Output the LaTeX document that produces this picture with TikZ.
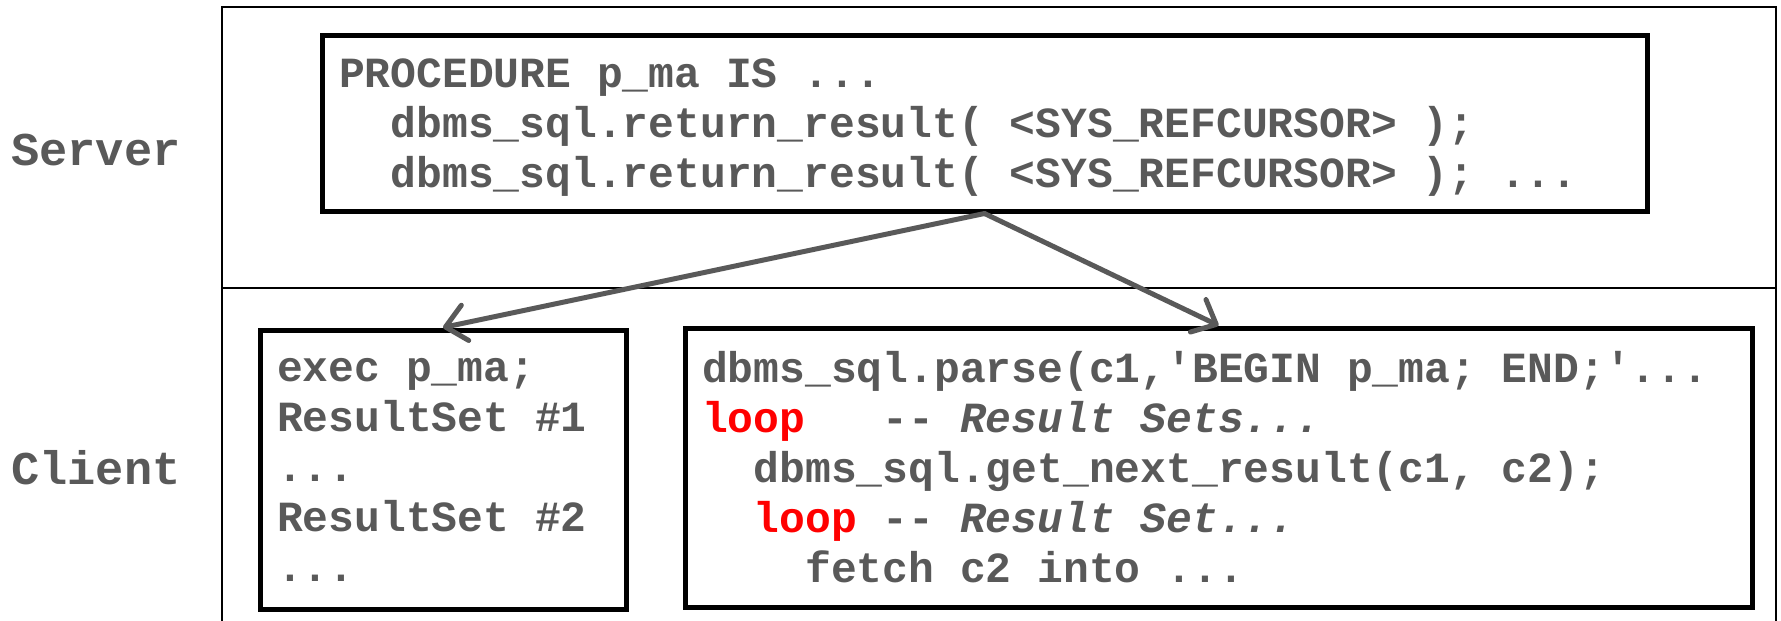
\documentclass[tikz,border=0pt]{standalone}
\usepackage{fontspec}
\setmonofont{Liberation Mono}
\usetikzlibrary{arrows.meta}
\definecolor{codegray}{HTML}{595959}
\definecolor{arrowgray}{HTML}{595959}
\newcommand\mycodefont{\ttfamily\bfseries\fontsize{43}{50}\selectfont}
\newcommand\cspace{\hspace*{25.8pt}}
\begin{document}
\begin{tikzpicture}[x=1pt,y=-1pt,
  codebox/.style={draw=black, line width=5pt, inner xsep=17pt, inner ysep=0pt,
    align=left, text=codegray, font=\mycodefont},
  lane/.style={text=codegray, inner sep=0pt,
    font=\ttfamily\bfseries\fontsize{47}{50}\selectfont},
  frame/.style={draw=black, line width=2pt},
  flow/.style={draw=arrowgray, line width=5pt, line cap=round,
    -{Straight Barb[length=20pt,width=36pt,round]}}]
\useasboundingbox (0,0) rectangle (1781,621);
% lanes frame
\coordinate (fbl) at (222,621);
\coordinate (ftl) at (222,7);
\coordinate (ftr) at (1775.5,7);
\coordinate (fbr) at (1775.5,621);
\coordinate (dl) at (222,287.5);
\coordinate (dr) at (1775.5,287.5);
\draw[frame] (fbl) -- (ftl) -- (ftr) -- (fbr);
\draw[frame] (dl) -- (dr);
% lane labels
\node[lane] (server) at (96,150) {Server};
\node[lane] (client) at (96,468) {Client};
% server procedure
\node[codebox, text width=1291pt, minimum height=175.5pt] (proc) at (984.5,123.25)
  {\rule{0pt}{37pt}PROCEDURE\cspace p\_ma\cspace IS\cspace ...\\
   \cspace\cspace dbms\_sql.return\_result(\cspace <SYS\_REFCURSOR>\cspace );\\
   \cspace\cspace dbms\_sql.return\_result(\cspace <SYS\_REFCURSOR>\cspace );\cspace ...};
% client boxes
\node[codebox, text width=332pt, minimum height=279pt] (lbox) at (443,469.5)
  {exec\cspace p\_ma;\\
   ResultSet\cspace \#1\\
   ...\\
   ResultSet\cspace \#2\\
   ...};
\node[codebox, text width=1033pt, minimum height=279pt] (rbox) at (1218.5,467.5)
  {dbms\_sql.parse(c1,'BEGIN\cspace p\_ma;\cspace END;'...\\
   \textcolor{red}{loop}\cspace\cspace\cspace --\cspace \textit{Result\cspace Sets...}\\
   \cspace\cspace dbms\_sql.get\_next\_result(c1,\cspace c2);\\
   \cspace\cspace \textcolor{red}{loop}\cspace --\cspace \textit{Result\cspace Set...}\\
   \cspace\cspace\cspace\cspace fetch\cspace c2\cspace into\cspace ...};
% connectors
\draw[flow] (proc.south) -- (lbox.north);
\draw[flow] (proc.south) -- (rbox.north);
\end{tikzpicture}
\end{document}
